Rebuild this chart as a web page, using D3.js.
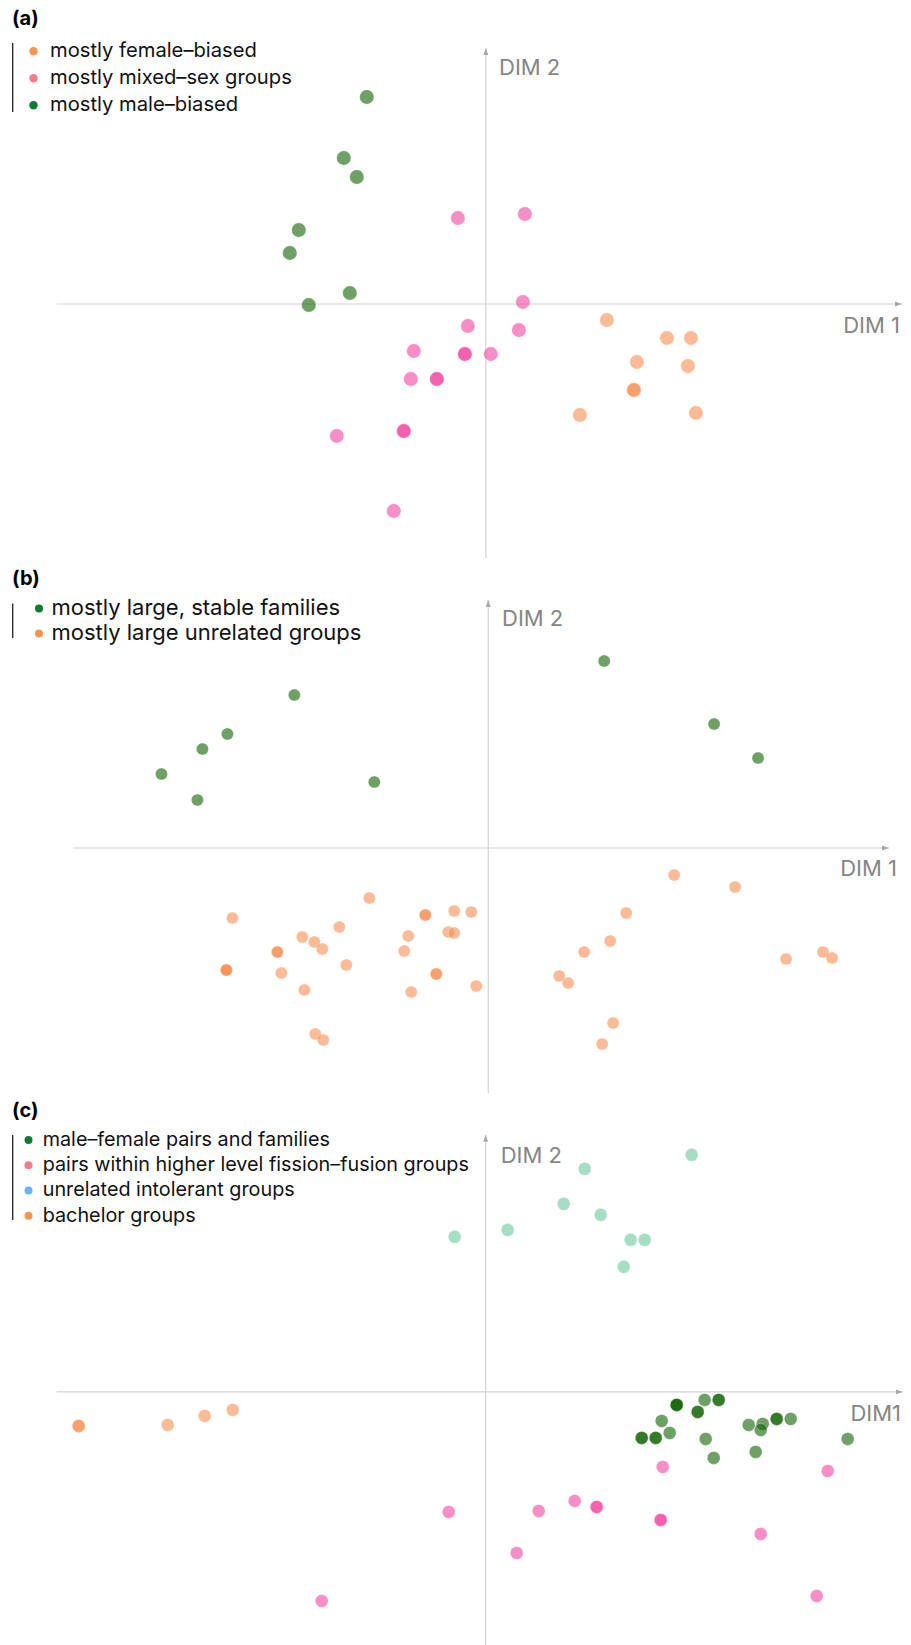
<!DOCTYPE html>
<html>
<head>
<meta charset="utf-8">
<script src="https://cdn.jsdelivr.net/npm/d3@7"></script>
<style>
  html, body { margin: 0; padding: 0; background: #fff; }
  svg { display: block; font-family: Inter, "Noto Sans", sans-serif; }
</style>
</head>
<body>
<svg id="chart" width="911" height="1645"></svg>
<script>
// Ordination scores (DIM 1, DIM 2) per social-system category.
// The third value is the number of species sharing that position;
// coincident records are stacked as translucent dots and read darker.

// (a) sex composition
const aLegend = ["mostly female–biased", "mostly mixed–sex groups", "mostly male–biased"];
const aFemaleBiased = [
  [1.21, -0.16, 1], [1.81, -0.34, 1], [2.05, -0.34, 1], [1.51, -0.58, 1],
  [2.02, -0.62, 1], [0.94, -1.11, 1], [2.10, -1.09, 1], [1.48, -0.86, 2]
];
const aMixedSex = [
  [-0.28, 0.86, 1], [0.39, 0.90, 1], [0.37, 0.02, 1], [0.33, -0.26, 1],
  [-0.18, -0.22, 1], [-0.72, -0.47, 1], [0.05, -0.50, 1], [-0.75, -0.75, 1],
  [-1.49, -1.32, 1], [-0.92, -2.07, 1], [-0.21, -0.50, 2], [-0.49, -0.75, 2],
  [-0.82, -1.27, 2]
];
const aMaleBiased = [
  [-1.19, 2.07, 1], [-1.42, 1.46, 1], [-1.29, 1.27, 1], [-1.87, 0.74, 1],
  [-1.96, 0.51, 1], [-1.36, 0.11, 1], [-1.77, -0.01, 1]
];

// (b) kinship structure
const bLegend = ["mostly large, stable families", "mostly large unrelated groups"];
const bStableFamilies = [
  [-1.94, 1.53, 1], [-2.61, 1.14, 1], [-2.86, 0.99, 1], [-3.27, 0.74, 1],
  [-2.91, 0.48, 1], [-1.14, 0.66, 1], [1.16, 1.87, 1], [2.26, 1.24, 1],
  [2.70, 0.90, 1]
];
const bUnrelatedGroups = [
  [-1.19, -0.50, 1], [-2.56, -0.70, 1], [-0.34, -0.63, 1], [-0.17, -0.64, 1],
  [-1.49, -0.79, 1], [-0.80, -0.88, 1], [-0.40, -0.84, 1], [-0.34, -0.85, 1],
  [-1.86, -0.89, 1], [-1.74, -0.94, 1], [-1.66, -1.01, 1], [-0.84, -1.03, 1],
  [-1.42, -1.17, 1], [-2.07, -1.25, 1], [-1.84, -1.42, 1], [-0.77, -1.44, 1],
  [-0.12, -1.38, 1], [-1.73, -1.86, 1], [-1.65, -1.92, 1], [1.86, -0.27, 1],
  [2.47, -0.39, 1], [1.38, -0.65, 1], [1.22, -0.93, 1], [0.96, -1.04, 1],
  [2.98, -1.11, 1], [3.35, -1.04, 1], [3.44, -1.10, 1], [0.71, -1.28, 1],
  [0.80, -1.35, 1], [1.25, -1.75, 1], [1.14, -1.96, 1],
  [-0.63, -0.67, 2], [-2.11, -1.04, 2], [-2.62, -1.22, 3], [-0.52, -1.26, 2]
];

// (c) social organisation
const cLegend = [
  "male–female pairs and families",
  "pairs within higher level fission–fusion groups",
  "unrelated intolerant groups",
  "bachelor groups"
];
const cPairsFamilies = [
  [2.19, -0.08, 1], [1.76, -0.29, 1], [1.84, -0.41, 1], [2.20, -0.47, 1],
  [2.28, -0.66, 1], [2.63, -0.33, 1], [2.77, -0.32, 1], [2.75, -0.38, 1],
  [3.05, -0.27, 1], [2.70, -0.60, 1], [3.62, -0.47, 1],
  [1.91, -0.13, 3], [2.33, -0.08, 2], [2.12, -0.20, 2], [1.56, -0.46, 2],
  [1.70, -0.46, 2], [2.91, -0.27, 2]
];
const cFissionFusion = [
  [-0.37, -1.20, 1], [-1.64, -2.09, 1], [0.53, -1.19, 1], [0.89, -1.09, 1],
  [0.31, -1.61, 1], [1.77, -0.75, 1], [3.42, -0.79, 1], [2.75, -1.42, 1],
  [3.31, -2.04, 1], [1.11, -1.15, 2], [1.75, -1.28, 2]
];
const cIntolerant = [
  [2.06, 2.37, 1], [0.99, 2.23, 1], [0.78, 1.88, 1], [1.15, 1.77, 1],
  [0.22, 1.62, 1], [-0.31, 1.55, 1], [1.45, 1.52, 1], [1.59, 1.52, 1],
  [1.38, 1.25, 1]
];
const cBachelor = [
  [-4.07, -0.34, 2], [-3.18, -0.33, 1], [-2.81, -0.24, 1], [-2.53, -0.18, 1]
];

// Dot fills (drawn translucent) and legend swatch colours
const fill = { green: "#0f6100", pink: "#f244a0", orange: "#f78e50", teal: "#6bc89d" };
const swatch = { green: "#0a7d32", pink: "#f47c88", orange: "#f8944f", blue: "#69b4ee" };
const dotOpacity = 0.6;

const panels = [
  {
    tag: "(a)", tagY: 25,
    xDomain: [-4.29, 4.16], xRange: [56.7, 902],
    yDomain: [-2.54, 2.56], yRange: [558, 48],
    r: 7.2,
    series: [
      { data: aMaleBiased, color: fill.green },
      { data: aMixedSex, color: fill.pink },
      { data: aFemaleBiased, color: fill.orange }
    ],
    legend: { items: aLegend, colors: [swatch.orange, swatch.pink, swatch.green],
              barTop: 43, barBottom: 112, dotX: 33.5, textX: 50, firstBase: 57.3, step: 27, size: 20.2, dotR: 4.2 },
    dim2: { x: 499, y: 75 }, dim1: { x: 900, y: 333, text: "DIM 1" }
  },
  {
    tag: "(b)", tagY: 585,
    xDomain: [-4.15, 4.01], xRange: [73.5, 889],
    yDomain: [-2.45, 2.48], yRange: [1093, 600],
    r: 6.1,
    series: [
      { data: bStableFamilies, color: fill.green },
      { data: bUnrelatedGroups, color: fill.orange }
    ],
    legend: { items: bLegend, colors: [swatch.green, swatch.orange],
              barTop: 603.6, barBottom: 638, dotX: 39, textX: 51.5, firstBase: 615, step: 25, size: 22, dotR: 4 },
    dim2: { x: 502, y: 626 }, dim1: { x: 897, y: 876, text: "DIM 1" }
  },
  {
    tag: "(c)", tagY: 1117,
    xDomain: [-4.29, 4.17], xRange: [56.7, 902.7],
    yDomain: [-2.53, 2.57], yRange: [1645, 1134.8],
    r: 6.5,
    series: [
      { data: cIntolerant, color: fill.teal },
      { data: cBachelor, color: fill.orange },
      { data: cFissionFusion, color: fill.pink },
      { data: cPairsFamilies, color: fill.green }
    ],
    legend: { items: cLegend, colors: [swatch.green, swatch.pink, swatch.blue, swatch.orange],
              barTop: 1135, barBottom: 1220, dotX: 28.5, textX: 42.7, firstBase: 1146, step: 25.2, size: 19.8, dotR: 4 },
    dim2: { x: 500.7, y: 1162.7 }, dim1: { x: 901, y: 1421, text: "DIM1" }
  }
];

const svg = d3.select("#chart");

// Arrowhead shared by all axis lines
svg.append("defs").append("marker")
  .attr("id", "arrow")
  .attr("viewBox", "0 0 10 10")
  .attr("refX", 10).attr("refY", 5)
  .attr("markerWidth", 7).attr("markerHeight", 7)
  .attr("markerUnits", "userSpaceOnUse")
  .attr("orient", "auto")
  .append("path")
  .attr("d", "M0,1.5 L10,5 L0,8.5 Z")
  .attr("fill", "#a8a8a8");

panels.forEach(p => {
  const g = svg.append("g");
  const x = d3.scaleLinear().domain(p.xDomain).range(p.xRange);
  const y = d3.scaleLinear().domain(p.yDomain).range(p.yRange);

  // Cross-hair axes through the origin
  g.append("line")
    .attr("x1", x(p.xDomain[0])).attr("x2", x(p.xDomain[1]))
    .attr("y1", y(0)).attr("y2", y(0))
    .attr("stroke", "#d2d2d2").attr("stroke-width", 1.2)
    .attr("marker-end", "url(#arrow)");
  g.append("line")
    .attr("x1", x(0)).attr("x2", x(0))
    .attr("y1", y(p.yDomain[0])).attr("y2", y(p.yDomain[1]))
    .attr("stroke", "#d2d2d2").attr("stroke-width", 1.2)
    .attr("marker-end", "url(#arrow)");

  g.append("text")
    .attr("x", p.dim2.x).attr("y", p.dim2.y)
    .attr("font-size", 22).attr("fill", "#858585")
    .text("DIM 2");
  g.append("text")
    .attr("x", p.dim1.x).attr("y", p.dim1.y)
    .attr("text-anchor", "end")
    .attr("font-size", 22).attr("fill", "#858585")
    .text(p.dim1.text);

  // Points: each record repeated by its count so overlaps deepen the colour
  p.series.forEach(s => {
    const rows = s.data.flatMap(d => d3.range(d[2]).map(() => d));
    g.append("g").selectAll("circle")
      .data(rows)
      .join("circle")
      .attr("cx", d => x(d[0]))
      .attr("cy", d => y(d[1]))
      .attr("r", p.r)
      .attr("fill", s.color)
      .attr("fill-opacity", dotOpacity)
      .attr("stroke", "#ffffff")
      .attr("stroke-opacity", 0.5)
      .attr("stroke-width", 0.6);
  });

  // Panel tag
  g.append("text")
    .attr("x", 12).attr("y", p.tagY)
    .attr("font-size", 20).attr("font-weight", 700).attr("fill", "#000")
    .text(p.tag);

  // Legend
  const L = p.legend;
  g.append("line")
    .attr("x1", 12.7).attr("x2", 12.7)
    .attr("y1", L.barTop).attr("y2", L.barBottom)
    .attr("stroke", "#222").attr("stroke-width", 1.3);
  const items = g.append("g").selectAll("g")
    .data(L.items)
    .join("g")
    .attr("transform", (d, i) => `translate(0,${L.firstBase + i * L.step})`);
  items.append("circle")
    .attr("cx", L.dotX).attr("cy", -L.size * 0.3)
    .attr("r", L.dotR)
    .attr("fill", (d, i) => L.colors[i]);
  items.append("text")
    .attr("x", L.textX).attr("y", 0)
    .attr("font-size", L.size).attr("fill", "#111")
    .text(d => d);
});
</script>
</body>
</html>
